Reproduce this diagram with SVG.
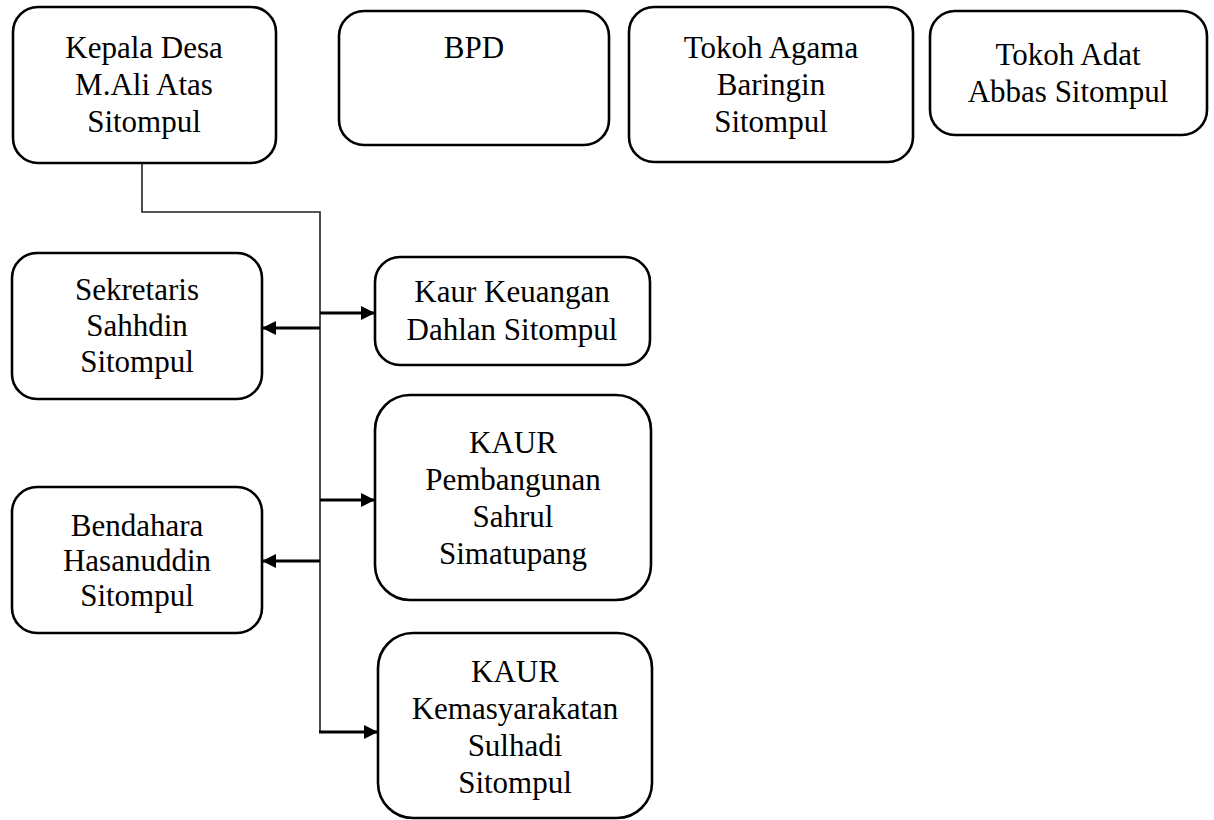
<svg xmlns="http://www.w3.org/2000/svg" width="1214" height="820" viewBox="0 0 1214 820">
<defs>
<style>
.box{fill:#fff;stroke:#000;stroke-width:2.6}
.t{font-family:"Liberation Serif","Times New Roman",serif;font-size:31px;fill:#000;text-anchor:middle}
.ln{fill:none;stroke:#222;stroke-width:1.6}
.ar{fill:none;stroke:#000;stroke-width:2.8}
</style>
<marker id="ah" viewBox="0 0 14 14" refX="13" refY="7" markerWidth="14" markerHeight="15" markerUnits="userSpaceOnUse" orient="auto">
<path d="M0,0 L14,7 L0,14 Z" fill="#000"/>
</marker>
</defs>
<rect width="1214" height="820" fill="#fff"/>
<g id="connectors">
<polyline class="ln" points="142,163 142,212 320,212 320,732"/>
<line class="ar" x1="320" y1="313" x2="374" y2="313" marker-end="url(#ah)"/>
<line class="ar" x1="320" y1="328" x2="263" y2="328" marker-end="url(#ah)"/>
<line class="ar" x1="320" y1="500" x2="374" y2="500" marker-end="url(#ah)"/>
<line class="ar" x1="320" y1="561" x2="263" y2="561" marker-end="url(#ah)"/>
<polyline class="ar" points="319,732 377,732" marker-end="url(#ah)"/>
</g>
<g id="kepala">
<rect class="box" x="13" y="7" width="263" height="156" rx="25"/>
<text class="t" x="144" y="58">Kepala Desa</text>
<text class="t" x="144" y="95">M.Ali Atas</text>
<text class="t" x="144" y="132">Sitompul</text>
</g>
<g id="bpd">
<rect class="box" x="339" y="11" width="270" height="134" rx="25"/>
<text class="t" x="474" y="58">BPD</text>
</g>
<g id="tokoh-agama">
<rect class="box" x="629" y="7" width="284" height="155" rx="25"/>
<text class="t" x="771" y="58">Tokoh Agama</text>
<text class="t" x="771" y="95">Baringin</text>
<text class="t" x="771" y="132">Sitompul</text>
</g>
<g id="tokoh-adat">
<rect class="box" x="930" y="11" width="277" height="124" rx="25"/>
<text class="t" x="1068" y="65">Tokoh Adat</text>
<text class="t" x="1068" y="102">Abbas Sitompul</text>
</g>
<g id="sekretaris">
<rect class="box" x="12" y="253" width="250" height="146" rx="25"/>
<text class="t" x="137" y="300">Sekretaris</text>
<text class="t" x="137" y="336">Sahhdin</text>
<text class="t" x="137" y="372">Sitompul</text>
</g>
<g id="kaur-keuangan">
<rect class="box" x="375" y="257" width="275" height="108" rx="25"/>
<text class="t" x="512" y="302">Kaur Keuangan</text>
<text class="t" x="512" y="340">Dahlan Sitompul</text>
</g>
<g id="kaur-pembangunan">
<rect class="box" x="375" y="395" width="276" height="205" rx="35"/>
<text class="t" x="513" y="453">KAUR</text>
<text class="t" x="513" y="490">Pembangunan</text>
<text class="t" x="513" y="527">Sahrul</text>
<text class="t" x="513" y="564">Simatupang</text>
</g>
<g id="bendahara">
<rect class="box" x="12" y="487" width="250" height="146" rx="25"/>
<text class="t" x="137" y="536">Bendahara</text>
<text class="t" x="137" y="571">Hasanuddin</text>
<text class="t" x="137" y="606">Sitompul</text>
</g>
<g id="kaur-kemasyarakatan">
<rect class="box" x="378" y="633" width="274" height="185" rx="35"/>
<text class="t" x="515" y="682">KAUR</text>
<text class="t" x="515" y="719">Kemasyarakatan</text>
<text class="t" x="515" y="756">Sulhadi</text>
<text class="t" x="515" y="793">Sitompul</text>
</g>
</svg>
